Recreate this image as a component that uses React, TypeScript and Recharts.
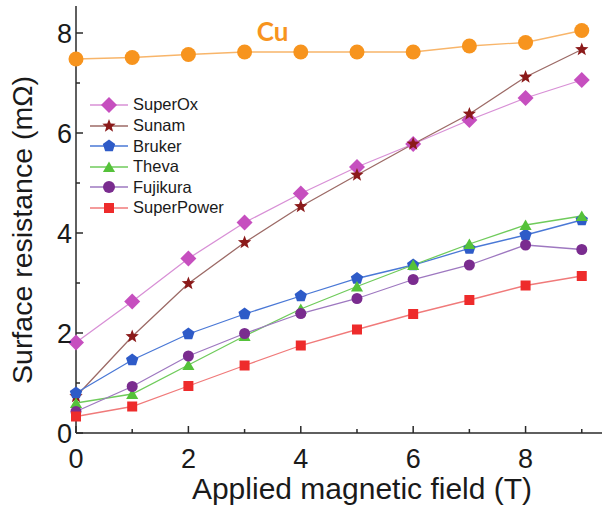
import React from "react";
import {
  LineChart,
  Line,
  XAxis,
  YAxis,
  ReferenceDot,
} from "recharts";

const fields = [0, 1, 2, 3, 4, 5, 6, 7, 8, 9];
const cu = [7.48, 7.51, 7.57, 7.62, 7.62, 7.62, 7.62, 7.74, 7.81, 8.05];
const superOx = [1.81, 2.63, 3.49, 4.21, 4.79, 5.32, 5.78, 6.26, 6.7, 7.06];
const sunam = [0.73, 1.93, 2.99, 3.81, 4.53, 5.16, 5.78, 6.38, 7.12, 7.67];
const bruker = [0.8, 1.46, 1.98, 2.38, 2.74, 3.09, 3.36, 3.69, 3.96, 4.26];
const theva = [0.6, 0.78, 1.36, 1.94, 2.48, 2.93, 3.36, 3.78, 4.16, 4.34];
const fujikura = [0.43, 0.93, 1.54, 1.99, 2.39, 2.69, 3.07, 3.36, 3.76, 3.67];
const superPower = [0.33, 0.53, 0.94, 1.35, 1.75, 2.07, 2.38, 2.66, 2.95, 3.14];

const xTicks = [0, 1, 2, 3, 4, 5, 6, 7, 8, 9];
const yTicks = [0, 1, 2, 3, 4, 5, 6, 7, 8];

type Shape = "circle" | "diamond" | "star" | "pentagon" | "triangle" | "square";

interface SeriesDef {
  key: string;
  name: string;
  values: number[];
  marker: string;
  line: string;
  shape: Shape;
  size: number;
}

const series: SeriesDef[] = [
  { key: "cu", name: "Cu", values: cu, marker: "#F7941E", line: "#F8B56A", shape: "circle", size: 7.5 },
  { key: "superOx", name: "SuperOx", values: superOx, marker: "#C64FBF", line: "#D890D6", shape: "diamond", size: 8 },
  { key: "sunam", name: "Sunam", values: sunam, marker: "#8B1A1A", line: "#9C6A66", shape: "star", size: 7 },
  { key: "bruker", name: "Bruker", values: bruker, marker: "#2E5BC8", line: "#4A78D6", shape: "pentagon", size: 6.5 },
  { key: "theva", name: "Theva", values: theva, marker: "#55C23A", line: "#6FCB5B", shape: "triangle", size: 7 },
  { key: "fujikura", name: "Fujikura", values: fujikura, marker: "#7A2C8F", line: "#9E78C0", shape: "circle", size: 5.5 },
  { key: "superPower", name: "SuperPower", values: superPower, marker: "#EE2B2B", line: "#F07A7A", shape: "square", size: 5 },
];

const legendSeries = series.filter((s) => s.key !== "cu");

const data = fields.map((f, i) => {
  const row: Record<string, number> = { field: f };
  series.forEach((s) => {
    row[s.key] = s.values[i];
  });
  return row;
});

function polygon(cx: number, cy: number, r: number, n: number, inner?: number) {
  const pts: string[] = [];
  const count = inner ? n * 2 : n;
  for (let i = 0; i < count; i++) {
    const rad = inner && i % 2 === 1 ? inner : r;
    const a = -Math.PI / 2 + (i * 2 * Math.PI) / count;
    pts.push(`${cx + rad * Math.cos(a)},${cy + rad * Math.sin(a)}`);
  }
  return pts.join(" ");
}

function Marker({ cx, cy, shape, size, fill }: { cx: number; cy: number; shape: Shape; size: number; fill: string }) {
  if (cx == null || cy == null) return null;
  switch (shape) {
    case "circle":
      return <circle cx={cx} cy={cy} r={size} fill={fill} />;
    case "diamond":
      return <polygon points={polygon(cx, cy, size, 4)} fill={fill} />;
    case "star":
      return <polygon points={polygon(cx, cy, size, 5, size * 0.42)} fill={fill} />;
    case "pentagon":
      return <polygon points={polygon(cx, cy, size, 5)} fill={fill} />;
    case "triangle":
      return <polygon points={polygon(cx, cy + size * 0.2, size, 3)} fill={fill} />;
    case "square":
      return <rect x={cx - size} y={cy - size} width={size * 2} height={size * 2} fill={fill} />;
  }
  return null;
}

const font = "'Liberation Sans', Arial, sans-serif";
const axisColor = "#2a2a2a";

const XTick = (props: any) => {
  const { x, y, payload } = props;
  const v = payload.value as number;
  const major = v % 2 === 0;
  return (
    <g>
      <line x1={x} x2={x} y1={y} y2={y - (major ? 7 : 4)} stroke={axisColor} strokeWidth={1.5} />
      {major && (
        <text x={x} y={y + 35} textAnchor="middle" fontSize={27} fontFamily={font} fill="#1a1a1a">
          {v}
        </text>
      )}
    </g>
  );
};

const YTick = (props: any) => {
  const { x, y, payload } = props;
  const v = payload.value as number;
  const major = v % 2 === 0;
  return (
    <g>
      <line x1={x} x2={x + (major ? 7 : 4)} y1={y} y2={y} stroke={axisColor} strokeWidth={1.5} />
      {major && (
        <text x={x - 4} y={y + 10} textAnchor="end" fontSize={27} fontFamily={font} fill="#1a1a1a">
          {v}
        </text>
      )}
    </g>
  );
};

const LegendBox = () => (
  <div style={{ position: "absolute", left: 88, top: 94.7, fontFamily: font, fontSize: 16.5, color: "#1a1a1a" }}>
    {legendSeries.map((s) => (
      <div key={s.key} style={{ display: "flex", alignItems: "center", height: 20.6 }}>
        <svg width={44} height={20} style={{ display: "block" }}>
          <line x1={2} x2={40} y1={10} y2={10} stroke={s.line} strokeWidth={1.3} />
          <Marker cx={21} cy={10} shape={s.shape} size={s.shape === "circle" ? 6 : s.size} fill={s.marker} />
        </svg>
        <span style={{ marginLeft: 1 }}>{s.name}</span>
      </div>
    ))}
  </div>
);

export default function App() {
  return (
    <div style={{ position: "absolute", left: 0, top: 0, width: 605, height: 506, background: "#fff" }}>
      <LineChart width={605} height={506} data={data} margin={{ top: 6, right: 3, left: 0, bottom: 0 }}>
        <XAxis
          dataKey="field"
          type="number"
          domain={[0, 9.36]}
          ticks={xTicks}
          interval={0}
          tickSize={0}
          tickMargin={0}
          height={73}
          stroke={axisColor}
          strokeWidth={1.5}
          tick={<XTick />}
          label={{
            content: () => (
              <text x={362} y={499} textAnchor="middle" fontSize={30} fontFamily={font} fill="#1a1a1a">
                Applied magnetic field (T)
              </text>
            ),
          }}
        />
        <XAxis xAxisId="top" orientation="top" dataKey="field" type="number" domain={[0, 9.36]} tick={false} tickLine={false} height={0} stroke={axisColor} strokeWidth={1.5} />
        <YAxis
          type="number"
          domain={[0, 8.54]}
          ticks={yTicks}
          interval={0}
          tickSize={0}
          tickMargin={0}
          width={76}
          stroke={axisColor}
          strokeWidth={1.5}
          tick={<YTick />}
          label={{
            content: () => (
              <text
                x={0}
                y={0}
                transform="translate(32, 230) rotate(-90)"
                textAnchor="middle"
                fontSize={28.5}
                fontFamily={font}
                fill="#1a1a1a"
              >
                Surface resistance (mΩ)
              </text>
            ),
          }}
        />
        <YAxis yAxisId="right" orientation="right" type="number" domain={[0, 8.54]} tick={false} tickLine={false} width={0} stroke={axisColor} strokeWidth={1.5} />
        {series.map((s) => (
          <Line
            key={s.key}
            dataKey={s.key}
            name={s.name}
            type="linear"
            stroke={s.line}
            strokeWidth={1.3}
            isAnimationActive={false}
            dot={(p: any) => (
              <Marker key={`${s.key}-${p.index}`} cx={p.cx} cy={p.cy} shape={s.shape} size={s.size} fill={s.marker} />
            )}
            activeDot={false}
          />
        ))}
        <ReferenceDot
          x={3.5}
          y={8.02}
          r={0}
          ifOverflow="visible"
          label={{
            content: (p: any) => (
              <text
                x={p.viewBox.x}
                y={p.viewBox.y + 9}
                textAnchor="middle"
                fontSize={26}
                fontWeight={700}
                fontFamily="Lato, 'Open Sans', sans-serif"
                fill="#F7941E"
              >
                Cu
              </text>
            ),
          }}
        />
      </LineChart>
      <LegendBox />
    </div>
  );
}
